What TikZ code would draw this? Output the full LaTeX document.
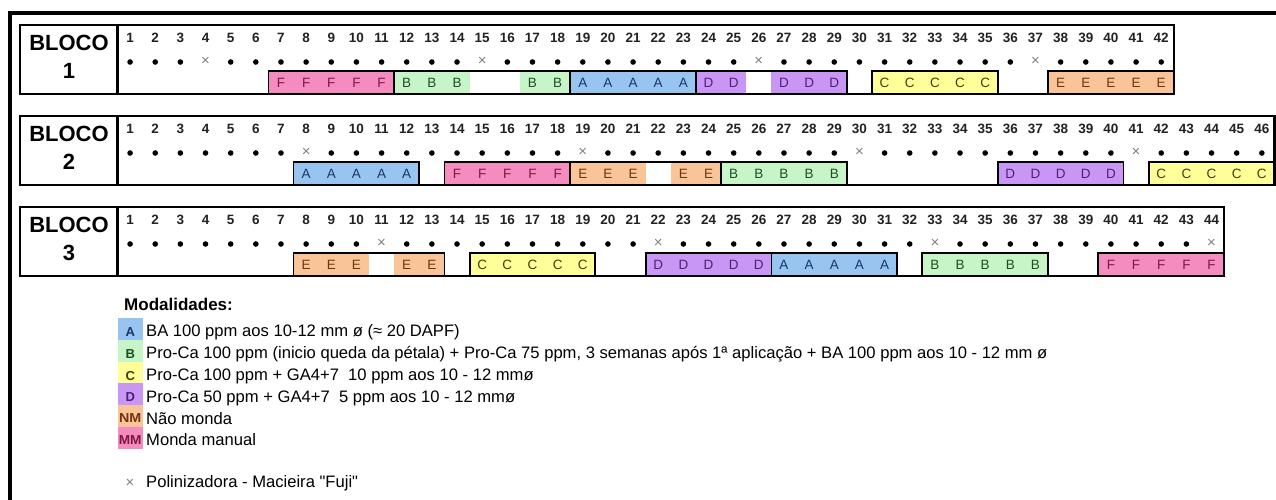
\documentclass[tikz,border=0pt]{standalone}
\usepackage{fontspec}
\setmainfont{Liberation Sans}
\definecolor{cA}{HTML}{98C4F0}
\definecolor{cB}{HTML}{C8F5C8}
\definecolor{cC}{HTML}{FFFF99}
\definecolor{cD}{HTML}{C897F5}
\definecolor{cE}{HTML}{F9C497}
\definecolor{cF}{HTML}{F58CC0}
\definecolor{tA}{HTML}{1A3470}
\definecolor{tB}{HTML}{1A5024}
\definecolor{tC}{HTML}{404008}
\definecolor{tD}{HTML}{502070}
\definecolor{tE}{HTML}{703410}
\definecolor{tF}{HTML}{801540}
\definecolor{numc}{HTML}{222222}
\definecolor{xc}{HTML}{808080}
\begin{document}
\begin{tikzpicture}[x=1pt,y=-1pt,
  numtxt/.style={inner sep=0pt,text=numc,font=\fontsize{13.5}{15}\selectfont\bfseries},
  bloco/.style={inner sep=0pt,font=\fontsize{22}{25}\selectfont\bfseries},
  celltxt/.style={inner sep=0pt,font=\fontsize{13.5}{15}\selectfont},
  xmark/.style={inner sep=0pt,text=xc,font=\fontsize{15}{16}\selectfont},
  blk/.style={draw=black,line width=2.2pt},
  grp/.style={draw=black,line width=1.8pt},
  frame/.style={draw=black,line width=3.5pt},
  legtxt/.style={inner sep=0pt,anchor=west,font=\fontsize{16.6}{19}\selectfont},
  modal/.style={inner sep=0pt,anchor=west,font=\fontsize{17}{19}\selectfont\bfseries},
  swl/.style={inner sep=0pt,font=\fontsize{13}{14}\selectfont\bfseries}
]
\useasboundingbox (0,0) rectangle (1276,499);
\clip (0,0) rectangle (1276,499);
\fill[white] (0,0) rectangle (1276,499);
% outer frame
\coordinate (fbl) at (10,510);
\coordinate (ftl) at (10,13);
\coordinate (ftr) at (1290,13);
\draw[frame] (fbl) -- (ftl) -- (ftr);
% fills
\foreach \T/\s/\e/\L in {25/7/11/F,25/12/14/B,25/17/18/B,25/19/23/A,25/24/25/D,25/27/29/D,25/31/35/C,25/38/42/E,
  116/8/12/A,116/14/18/F,116/19/21/E,116/23/24/E,116/25/29/B,116/36/40/D,116/42/46/C,
  207/8/10/E,207/12/13/E,207/15/19/C,207/22/26/D,207/27/31/A,207/33/37/B,207/40/44/F}{
  \fill[c\L] ({117.5+(\s-1)*25.15},{\T+46}) rectangle ({117.5+\e*25.15},{\T+69});
  \foreach \k in {\s,...,\e}{
    \node[celltxt,text=t\L] (l\T-\k) at ({117.5+(\k-0.5)*25.15},{\T+58}) {\L};
  }
}
% blocks
\foreach \b/\T/\N/\p in {1/25/42/4,2/116/46/8,3/207/44/11}{
  \draw[blk] (20,\T) rectangle ({117.5+\N*25.15},{\T+69});
  \draw[blk] (117.5,\T) -- (117.5,{\T+69});
  \node[bloco] (bt\b) at (69,{\T+18}) {BLOCO};
  \node[bloco] (bn\b) at (69,{\T+46}) {\b};
  \foreach \k in {1,...,\N}{
    \node[numtxt] (n\b-\k) at ({117.5+(\k-0.5)*25.15},{\T+13}) {\k};
    \pgfmathtruncatemacro\isx{mod(\k-\p,11)==0}
    \ifnum\isx=1
      \node[xmark] (d\b-\k) at ({117.5+(\k-0.5)*25.15},{\T+36}) {×};
    \else
      \fill[black] ({117.5+(\k-0.5)*25.15},{\T+37}) circle (2.8);
    \fi
  }
}
% group borders
\foreach \T/\s/\e in {25/7/11,25/12/18,25/19/23,25/24/29,25/31/35,25/38/42,
  116/8/12,116/14/18,116/19/24,116/25/29,116/36/40,116/42/46,
  207/8/13,207/15/19,207/22/26,207/27/31,207/33/37,207/40/44}{
  \draw[grp] ({117.5+(\s-1)*25.15},{\T+46}) rectangle ({117.5+\e*25.15},{\T+69});
}
% legend
\node[modal] (mod) at (124,304) {Modalidades:};
\foreach \i/\L in {0/A,1/B,2/C,3/D,4/E,5/F}{
  \fill[c\L] (117.5,{318+\i*21.8}) rectangle (143,{318+(\i+1)*21.8});
}
\node[swl,text=tA] (sA) at (130.2,332) {A};
\node[swl,text=tB] (sB) at (130.2,354) {B};
\node[swl,text=tC] (sC) at (130.2,376) {C};
\node[swl,text=tD] (sD) at (130.2,397.5) {D};
\node[swl,text=tE] (sE) at (130.2,418.5) {\scalebox{1.1}[1]{NM}};
\node[swl,text=tF] (sF) at (130.2,440) {\scalebox{1.05}[1]{MM}};
\node[legtxt] (gA) at (146,332) {BA 100 ppm aos 10-12 mm ø (≈ 20 DAPF)};
\node[legtxt] (gB) at (146,354) {Pro-Ca 100 ppm (inicio queda da pétala) + Pro-Ca 75 ppm, 3 semanas após 1ª aplicação + BA 100 ppm aos 10 - 12 mm ø};
\node[legtxt] (gC) at (146,376) {Pro-Ca 100 ppm + GA4+7\ \ 10 ppm aos 10 - 12 mmø};
\node[legtxt] (gD) at (146,398) {Pro-Ca 50 ppm + GA4+7\ \ 5 ppm aos 10 - 12 mmø};
\node[legtxt] (gE) at (146,419) {Não monda};
\node[legtxt] (gF) at (146,440) {Monda manual};
\node[xmark] (gx) at (130,483) {×};
\node[legtxt] (gP) at (146,483) {Polinizadora - Macieira \textquotedbl Fuji\textquotedbl};
\end{tikzpicture}
\end{document}
